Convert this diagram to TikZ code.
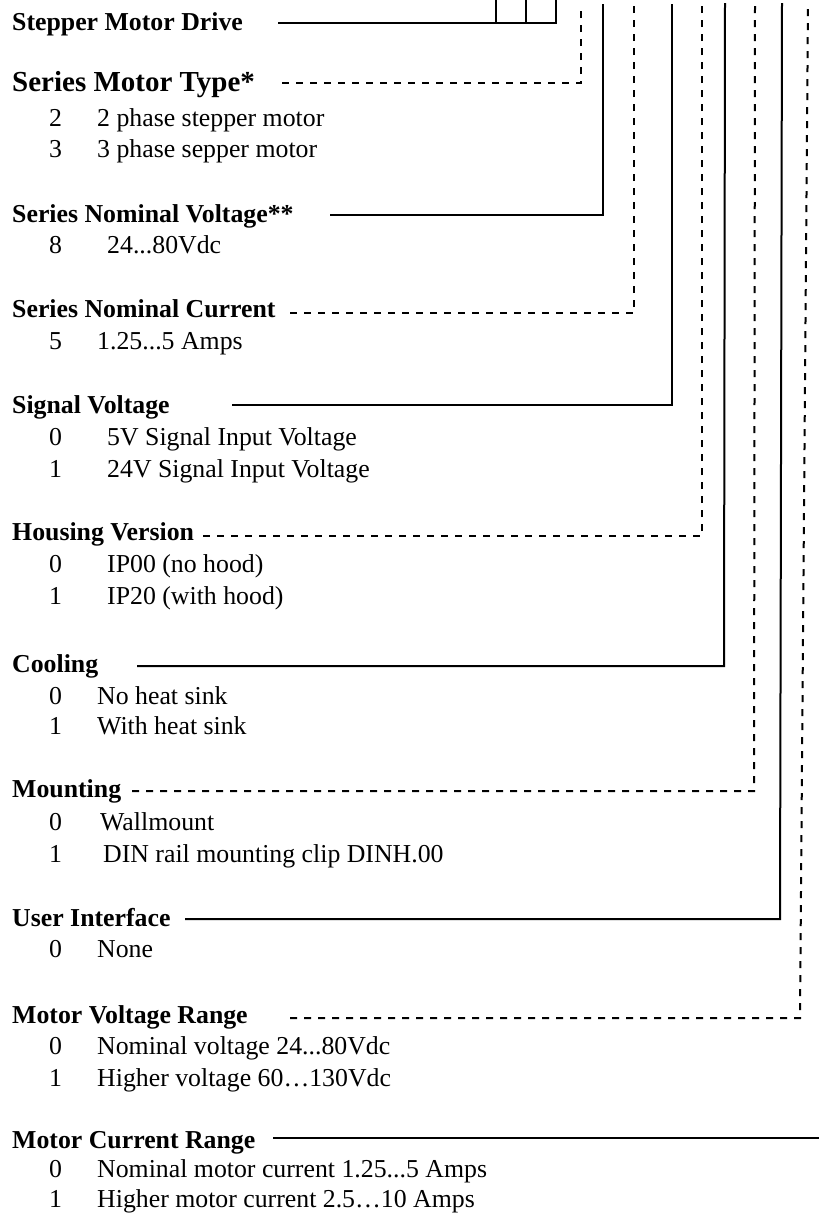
\documentclass[tikz,border=0pt]{standalone}
\usepackage{fontspec}
\setmainfont{Liberation Serif}
\begin{document}
\begin{tikzpicture}[x=1pt,y=-1pt,
  every node/.style={inner sep=0pt, anchor=base west},
  txt/.style={font=\fontsize{25.8}{31}\selectfont},
  head/.style={font=\fontsize{25.8}{31}\selectfont\bfseries},
  bighead/.style={font=\fontsize{29}{34}\selectfont\bfseries},
  wire/.style={line width=2pt},
  dwire/.style={line width=2pt, dash pattern=on 7pt off 7pt},
]
\useasboundingbox (0,0) rectangle (819,1219);

% ---------- headings ----------
\node[head] (h1)  at (12,30)   {Stepper Motor Drive};
\node[bighead] (h2)  at (12,91)   {Series Motor Type*};
\node[head] (h3)  at (12,222)  {Series Nominal Voltage**};
\node[head] (h4)  at (12,317)  {Series Nominal Current};
\node[head] (h5)  at (12,413)  {Signal Voltage};
\node[head] (h6)  at (12,540)  {Housing Version};
\node[head] (h7)  at (12,672)  {Cooling};
\node[head] (h8)  at (12,797)  {Mounting};
\node[head] (h9)  at (12,926)  {User Interface};
\node[head] (h10) at (12,1023) {Motor Voltage Range};
\node[head] (h11) at (12,1148) {Motor Current Range};

% ---------- options ----------
\node[txt] (n2a) at (49,126) {2}; \node[txt] (t2a) at (97,126) {2 phase stepper motor};
\node[txt] (n2b) at (49,157) {3}; \node[txt] (t2b) at (97,157) {3 phase sepper motor};

\node[txt] (n3a) at (49,253) {8}; \node[txt] (t3a) at (107,253) {24...80Vdc};

\node[txt] (n4a) at (49,349) {5}; \node[txt] (t4a) at (97,349) {1.25...5 Amps};

\node[txt] (n5a) at (49,445) {0}; \node[txt] (t5a) at (107,445) {5V Signal Input Voltage};
\node[txt] (n5b) at (49,477) {1}; \node[txt] (t5b) at (107,477) {24V Signal Input Voltage};

\node[txt] (n6a) at (49,572) {0}; \node[txt] (t6a) at (107,572) {IP00 (no hood)};
\node[txt] (n6b) at (49,604) {1}; \node[txt] (t6b) at (107,604) {IP20 (with hood)};

\node[txt] (n7a) at (49,704) {0}; \node[txt] (t7a) at (97,704) {No heat sink};
\node[txt] (n7b) at (49,734) {1}; \node[txt] (t7b) at (97,734) {With heat sink};

\node[txt] (n8a) at (49,830) {0}; \node[txt] (t8a) at (100,830) {Wallmount};
\node[txt] (n8b) at (49,862) {1}; \node[txt] (t8b) at (103,862) {DIN rail mounting clip DINH.00};

\node[txt] (n9a) at (49,957) {0}; \node[txt] (t9a) at (97,957) {None};

\node[txt] (n10a) at (49,1054) {0}; \node[txt] (t10a) at (97,1054) {Nominal voltage 24...80Vdc};
\node[txt] (n10b) at (49,1086) {1}; \node[txt] (t10b) at (97,1086) {Higher voltage 60…130Vdc};

\node[txt] (n11a) at (49,1177) {0}; \node[txt] (t11a) at (97,1177) {Nominal motor current 1.25...5 Amps};
\node[txt] (n11b) at (49,1207) {1}; \node[txt] (t11b) at (97,1207) {Higher motor current 2.5…10 Amps};

% ---------- connector points ----------
\coordinate (s1) at (278,23);  \coordinate (c1) at (556,23);
\coordinate (v1a) at (496,23); \coordinate (u1a) at (496,0);
\coordinate (v1b) at (526,23); \coordinate (u1b) at (526,0);
\coordinate (u1c) at (556,0);
\coordinate (s2) at (282,83);   \coordinate (c2) at (581,83);   \coordinate (u2) at (581,4);
\coordinate (s3) at (330,215);  \coordinate (c3) at (603,215);  \coordinate (u3) at (603,4);
\coordinate (s4) at (290,313);  \coordinate (c4) at (634,313);  \coordinate (u4) at (634,4);
\coordinate (s5) at (232,405);  \coordinate (c5) at (672,405);  \coordinate (u5) at (672,4);
\coordinate (s6) at (203,536);  \coordinate (c6) at (702,536);  \coordinate (u6) at (702,4);
\coordinate (s7) at (137,666);  \coordinate (c7) at (724,666);  \coordinate (u7) at (725,3);
\coordinate (s8) at (132,791);  \coordinate (c8) at (754,791);  \coordinate (u8) at (755,4);
\coordinate (s9) at (185,919);  \coordinate (c9) at (780,919);  \coordinate (u9) at (782,3);
\coordinate (s10) at (290,1018); \coordinate (c10) at (800,1018); \coordinate (u10) at (808,4);
\coordinate (s11) at (273,1138); \coordinate (c11) at (819,1138);

% ---------- connectors ----------
\draw[wire] (s1) -- (c1) -- (u1c);
\draw[wire] (v1a) -- (u1a);
\draw[wire] (v1b) -- (u1b);
\draw[dwire] (s2) -- (c2) -- (u2);
\draw[wire] (s3) -- (c3) -- (u3);
\draw[dwire] (s4) -- (c4) -- (u4);
\draw[wire] (s5) -- (c5) -- (u5);
\draw[dwire] (s6) -- (c6) -- (u6);
\draw[wire] (s7) -- (c7) -- (u7);
\draw[dwire] (s8) -- (c8) -- (u8);
\draw[wire] (s9) -- (c9) -- (u9);
\draw[dwire] (s10) -- (c10) -- (u10);
\draw[wire] (s11) -- (c11);
\end{tikzpicture}
\end{document}
